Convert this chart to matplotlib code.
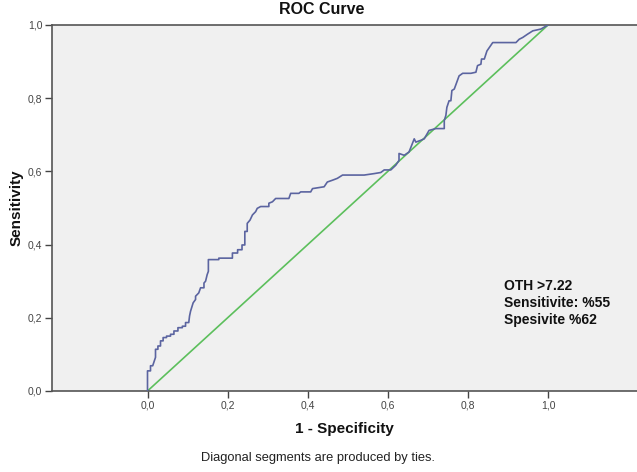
import matplotlib
matplotlib.use("Agg")
import matplotlib.pyplot as plt
from matplotlib.ticker import FuncFormatter

plt.rcParams['font.family'] = ['Liberation Sans', 'DejaVu Sans']

# ROC curve points (1 - specificity, sensitivity)
fpr = [0.0, 0.0, 0.0075, 0.0075, 0.013, 0.02, 0.02, 0.026, 0.026, 0.0325, 0.0325,
       0.039, 0.039, 0.0475, 0.0475, 0.0575, 0.0575, 0.066, 0.066, 0.076, 0.076,
       0.087, 0.087, 0.095, 0.095, 0.103, 0.105, 0.1075, 0.114, 0.12, 0.12, 0.128,
       0.1325, 0.141, 0.141, 0.145, 0.149, 0.152, 0.152, 0.178, 0.178, 0.212, 0.212,
       0.225, 0.225, 0.236, 0.236, 0.243, 0.243, 0.249, 0.249, 0.256, 0.262, 0.27,
       0.274, 0.2825, 0.303, 0.303, 0.312, 0.32, 0.353, 0.3575, 0.378, 0.3825,
       0.4075, 0.412, 0.441, 0.449, 0.462, 0.474, 0.487, 0.541, 0.566, 0.5825,
       0.591, 0.6075, 0.62, 0.628, 0.628, 0.641, 0.653, 0.666, 0.67, 0.6825, 0.691,
       0.703, 0.72, 0.741, 0.741, 0.745, 0.7475, 0.753, 0.7575, 0.76, 0.766, 0.778,
       0.787, 0.8075, 0.82, 0.824, 0.8325, 0.834, 0.841, 0.8475, 0.862, 0.92, 0.928,
       0.937, 0.949, 0.962, 0.9825, 0.995, 1.0]
tpr = [0.0, 0.055, 0.055, 0.069, 0.069, 0.092, 0.114, 0.114, 0.123, 0.123, 0.137,
       0.137, 0.146, 0.146, 0.15, 0.15, 0.155, 0.155, 0.164, 0.164, 0.173,
       0.173, 0.177, 0.177, 0.187, 0.187, 0.205, 0.218, 0.241, 0.25, 0.259, 0.268,
       0.282, 0.282, 0.295, 0.30, 0.318, 0.327, 0.359, 0.359, 0.363, 0.363, 0.377,
       0.377, 0.386, 0.386, 0.399, 0.399, 0.436, 0.436, 0.458, 0.467, 0.481, 0.49,
       0.499, 0.504, 0.504, 0.513, 0.517, 0.526, 0.526, 0.54, 0.54, 0.544,
       0.544, 0.553, 0.558, 0.571, 0.576, 0.581, 0.59, 0.59, 0.594, 0.597,
       0.604, 0.604, 0.617, 0.63, 0.649, 0.644, 0.653, 0.689, 0.68, 0.685, 0.689,
       0.712, 0.717, 0.717, 0.739, 0.753, 0.775, 0.793, 0.793, 0.821, 0.825, 0.861,
       0.868, 0.868, 0.871, 0.889, 0.893, 0.907, 0.907, 0.929, 0.952, 0.952, 0.961,
       0.966, 0.975, 0.984, 0.989, 0.997, 1.0]
ref_x = [0.0, 1.0]
ref_y = [0.0, 1.0]
ticks = [0.0, 0.2, 0.4, 0.6, 0.8, 1.0]
annotation = "OTH >7.22\nSensitivite: %55\nSpesivite %62"

W, H = 637, 472
fig = plt.figure(figsize=(W / 100, H / 100), dpi=100)
fig.patch.set_facecolor('white')

left, right, top, bottom = 52, 637, 25, 391
ax = fig.add_axes([left / W, 1 - bottom / H, (right - left) / W, (bottom - top) / H])
ax.set_facecolor('#f0f0f0')

x0, x1 = 147.5, 548.0
xmin = (left - x0) / (x1 - x0)
xmax = (right - x0) / (x1 - x0)
ax.set_xlim(xmin, xmax)
ax.set_ylim(0, 1)

ax.plot(ref_x, ref_y, color='#5cbf5c', lw=1.2, zorder=2)
ax.plot(fpr, tpr, color='#5b64a0', lw=1.2, zorder=3)

ax.set_xticks(ticks)
ax.set_yticks(ticks)
fmt = FuncFormatter(lambda v, p: f"{v:.1f}".replace('.', ','))
ax.xaxis.set_major_formatter(fmt)
ax.yaxis.set_major_formatter(fmt)
ax.tick_params(direction='out', length=5, width=1, color='#444444',
               labelsize=7.5, labelcolor='#444444', pad=2)

for s in ['left', 'bottom', 'top']:
    ax.spines[s].set_color('#555555')
    ax.spines[s].set_linewidth(1.2)
ax.spines['right'].set_visible(False)

ax.set_xlabel('1 - Specificity', fontsize=11, fontweight='bold', labelpad=8, color='#111111')
ax.set_ylabel('Sensitivity', fontsize=11, fontweight='bold', labelpad=3, color='#111111')

ax.text(0.89, 0.24, annotation, fontsize=10, fontweight='bold', color='#111111',
        ha='left', va='center', linespacing=1.25)

fig.text(0.505, 1 - 10 / H, 'ROC Curve', fontsize=11.5, fontweight='bold',
         ha='center', va='center', color='#111111')
fig.text(318 / W, 1 - 458 / H, 'Diagonal segments are produced by ties.', fontsize=9.3,
         ha='center', va='center', color='#222222')

fig.savefig('out.png', dpi=100, facecolor='white')
